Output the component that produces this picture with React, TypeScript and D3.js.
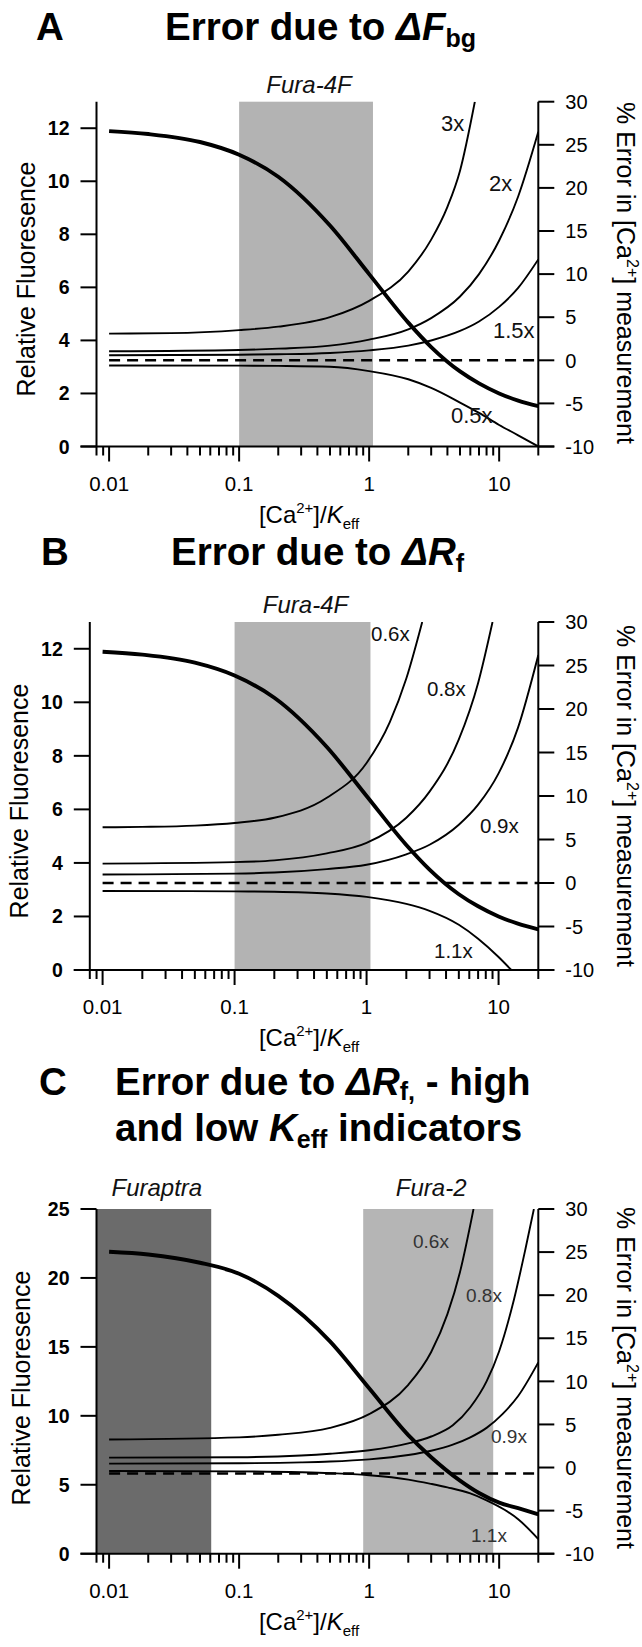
import React from "react";
import * as d3 from "d3";

const FONT = "'Liberation Sans', Arial, Helvetica, sans-serif";

// [Ca2+]/Keff axis
const xDomain = [0.008, 20];
const xMajor = [0.01, 0.1, 1, 10];
const xMajorLabels = ["0.01", "0.1", "1", "10"];
const rightTicks = [-10, -5, 0, 5, 10, 15, 20, 25, 30];
const leftTicksAB = [0, 2, 4, 6, 8, 10, 12];
const leftTicksC = [0, 5, 10, 15, 20, 25];

// indicator ranges (shaded)
const fura4F = [0.1, 1.07];
const furaptra = [0.008, 0.061];
const fura2 = [0.9, 9.0];

// relative fluorescence (thick curve, left axis)
const xFluor = [0.01, 0.02, 0.05, 0.1, 0.2, 0.5, 1, 2, 3, 5, 7, 10, 14, 20];
const fluorAB = [11.89, 11.78, 11.48, 11.0, 10.17, 8.33, 6.5, 4.67, 3.75, 2.83, 2.38, 2.0, 1.73, 1.52];
const fluorC = [21.9, 21.7, 21.1, 20.3, 18.7, 15.4, 12.0, 8.6, 7.0, 5.3, 4.4, 3.7, 3.3, 2.85];

// panel A: % error, background error factors
const xA3 = [0.01, 0.03, 0.1, 0.2, 0.5, 1, 2, 3, 4, 5, 6.5];
const errA3 = [3.1, 3.15, 3.5, 3.9, 5.0, 6.9, 10.3, 14.0, 17.8, 22.0, 30.0];
const xA = [0.01, 0.1, 0.2, 0.5, 1, 2, 3, 5, 7, 10, 14, 20];
const errA2 = [1.05, 1.2, 1.35, 1.7, 2.4, 3.6, 4.9, 7.4, 10.0, 13.9, 19.0, 26.5];
const errA15 = [0.58, 0.65, 0.7, 0.85, 1.15, 1.7, 2.3, 3.4, 4.5, 6.2, 8.4, 11.7];
const errA05 = [-0.6, -0.62, -0.65, -0.75, -1.25, -2.2, -3.2, -4.9, -6.1, -7.5, -8.7, -10.0];

// panel B: % error, Rf factors
const xB06 = [0.01, 0.02, 0.05, 0.1, 0.2, 0.5, 1, 1.5, 2, 2.64];
const errB06 = [6.4, 6.45, 6.6, 6.9, 7.5, 9.8, 13.8, 18.5, 23.5, 30.0];
const xB08 = [0.01, 0.1, 0.2, 0.5, 1, 2, 3, 5, 7, 9];
const errB08 = [2.23, 2.4, 2.6, 3.4, 4.6, 7.5, 10.5, 16.5, 23.0, 30.0];
const xB09 = [0.01, 0.1, 0.2, 0.5, 1, 2, 3, 5, 7, 10, 14, 20];
const errB09 = [0.97, 1.08, 1.2, 1.6, 2.1, 3.3, 4.4, 6.7, 9.0, 12.6, 17.8, 26.2];
const xB11 = [0.01, 0.1, 0.2, 0.5, 1, 2, 3, 5, 7, 10, 12.5];
const errB11 = [-0.92, -0.96, -1.0, -1.2, -1.6, -2.4, -3.2, -4.8, -6.4, -8.5, -10.0];

// panel C: % error, Rf factors
const xC06 = [0.01, 0.1, 0.2, 0.5, 1, 2, 3, 4, 5, 6.35];
const errC06 = [3.25, 3.5, 3.8, 4.6, 6.2, 9.6, 13.4, 17.8, 22.7, 30.0];
const xC08 = [0.01, 0.1, 0.3, 0.5, 1, 2, 3, 4.4, 6, 8, 10, 13, 16, 18.5];
const errC08 = [1.15, 1.2, 1.4, 1.6, 2.0, 2.8, 3.6, 4.9, 7.0, 10.0, 13.5, 19.5, 25.5, 30.0];
const xC09 = [0.01, 0.1, 0.3, 0.5, 1, 2, 3, 4.4, 6, 8, 10.6, 14, 20];
const errC09 = [0.45, 0.5, 0.6, 0.7, 0.95, 1.45, 1.95, 2.65, 3.5, 4.6, 6.2, 8.3, 12.2];
const xC11 = [0.01, 0.1, 0.3, 0.5, 1, 2, 3, 4, 6, 8, 11, 14, 20];
const errC11 = [-0.4, -0.45, -0.55, -0.65, -0.9, -1.4, -1.9, -2.3, -3.0, -3.8, -4.9, -6.0, -8.3];

// level of the dashed reference line (right axis, %)
const dashedLevel = [0, 0, -0.7];

const zip = (xs: number[], ys: number[]) => xs.map((v, i) => [v, ys[i]] as [number, number]);

const panels = [
  {
    key: "A",
    box: { left: 96.5, right: 538.3, top: 101.7, bottom: 446.5 },
    leftMax: 13,
    leftTicks: leftTicksAB,
    fluor: fluorAB,
    dashed: dashedLevel[0],
    bands: [{ range: fura4F, label: "Fura-4F", fill: "#b3b3b3", labelY: 93 }],
    curves: [zip(xA3, errA3), zip(xA, errA2), zip(xA, errA15), zip(xA, errA05)],
    labels: [
      { t: "3x", x: 441, y: 131 },
      { t: "2x", x: 489, y: 191 },
      { t: "1.5x", x: 493, y: 338 },
      { t: "0.5x", x: 451, y: 423 },
    ],
    labelSize: 22,
    labelColor: "#111",
    yLabelX: 35,
    yLabelY: 279,
    rLabelY: 273,
  },
  {
    key: "B",
    box: { left: 89.8, right: 538.3, top: 622, bottom: 970 },
    leftMax: 13,
    leftTicks: leftTicksAB,
    fluor: fluorAB,
    dashed: dashedLevel[1],
    bands: [{ range: fura4F, label: "Fura-4F", fill: "#b3b3b3", labelY: 613 }],
    curves: [zip(xB06, errB06), zip(xB08, errB08), zip(xB09, errB09), zip(xB11, errB11)],
    labels: [
      { t: "0.6x", x: 371, y: 641 },
      { t: "0.8x", x: 427, y: 696 },
      { t: "0.9x", x: 480, y: 833 },
      { t: "1.1x", x: 434, y: 958 },
    ],
    labelSize: 20.5,
    labelColor: "#111",
    yLabelX: 28,
    yLabelY: 801,
    rLabelY: 796,
  },
  {
    key: "C",
    box: { left: 96.5, right: 538.3, top: 1209, bottom: 1553.7 },
    leftMax: 25,
    leftTicks: leftTicksC,
    fluor: fluorC,
    dashed: dashedLevel[2],
    bands: [
      { range: furaptra, label: "Furaptra", fill: "#6b6b6b", labelY: 1196 },
      { range: fura2, label: "Fura-2", fill: "#b5b5b5", labelY: 1196 },
    ],
    curves: [zip(xC06, errC06), zip(xC08, errC08), zip(xC09, errC09), zip(xC11, errC11)],
    labels: [
      { t: "0.6x", x: 413, y: 1248 },
      { t: "0.8x", x: 466, y: 1302 },
      { t: "0.9x", x: 491, y: 1443 },
      { t: "1.1x", x: 471, y: 1542 },
    ],
    labelSize: 19,
    labelColor: "#333",
    yLabelX: 30,
    yLabelY: 1388,
    rLabelY: 1378,
  },
];

function Panel({ p }: { p: any }) {
  const { left, right, top, bottom } = p.box;
  const x = d3.scaleLog().domain(xDomain).range([left, right]);
  const yL = d3.scaleLinear().domain([0, p.leftMax]).range([bottom, top]);
  const yR = d3.scaleLinear().domain([-10, 30]).range([bottom, top]);

  const thinLine = d3
    .line<[number, number]>()
    .x((d) => x(d[0]))
    .y((d) => yR(d[1]))
    .curve(d3.curveMonotoneX);
  const thickLine = d3
    .line<[number, number]>()
    .x((d) => x(d[0]))
    .y((d) => yL(d[1]))
    .curve(d3.curveMonotoneX);

  const clipId = `clip-${p.key}`;
  const xTicks = x.ticks();
  const isMajor = (t: number) => Math.abs(Math.log10(t) - Math.round(Math.log10(t))) < 1e-6;

  return (
    <g>
      <defs>
        <clipPath id={clipId}>
          <rect x={left} y={top} width={right - left} height={bottom - top} />
        </clipPath>
      </defs>

      {p.bands.map((b: any) => (
        <g key={b.label}>
          <rect
            x={x(b.range[0])}
            y={top}
            width={x(b.range[1]) - x(b.range[0])}
            height={bottom - top}
            fill={b.fill}
          />
          <text
            x={(x(b.range[0]) + x(b.range[1])) / 2 + 3}
            y={b.labelY}
            textAnchor="middle"
            fontSize={24}
            fontStyle="italic"
            fill="#111"
          >
            {b.label}
          </text>
        </g>
      ))}

      <g clipPath={`url(#${clipId})`}>
        <line
          x1={x(0.01)}
          x2={right}
          y1={yR(p.dashed)}
          y2={yR(p.dashed)}
          stroke="#000"
          strokeWidth={2.6}
          strokeDasharray="11 7"
        />
        {p.curves.map((c: [number, number][], i: number) => (
          <path key={i} d={thinLine(c) || ""} fill="none" stroke="#000" strokeWidth={1.9} />
        ))}
        <path d={thickLine(zip(xFluor, p.fluor)) || ""} fill="none" stroke="#000" strokeWidth={3.9} />
      </g>

      {p.labels.map((l: any) => (
        <text key={l.t} x={l.x} y={l.y} fontSize={p.labelSize} fill={p.labelColor}>
          {l.t}
        </text>
      ))}

      {/* left axis */}
      <line x1={left} x2={left} y1={top} y2={bottom} stroke="#000" strokeWidth={2} />
      {p.leftTicks.map((t: number) => (
        <g key={t}>
          <line x1={left - 16} x2={left} y1={yL(t)} y2={yL(t)} stroke="#000" strokeWidth={2} />
          <text
            x={left - 27}
            y={yL(t)}
            dy="0.36em"
            textAnchor="end"
            fontSize={19.5}
            fontWeight={700}
            fill="#000"
          >
            {t}
          </text>
        </g>
      ))}

      {/* right axis */}
      <line x1={right} x2={right} y1={top} y2={bottom} stroke="#000" strokeWidth={2} />
      {rightTicks.map((t) => (
        <g key={t}>
          <line x1={right} x2={right + 16} y1={yR(t)} y2={yR(t)} stroke="#000" strokeWidth={2} />
          <text x={right + 27} y={yR(t)} dy="0.36em" fontSize={20} fill="#000">
            {t}
          </text>
        </g>
      ))}

      {/* x axis */}
      <line x1={left - 16} x2={right + 16} y1={bottom} y2={bottom} stroke="#000" strokeWidth={2} />
      {xTicks.map((t) => (
        <line
          key={t}
          x1={x(t)}
          x2={x(t)}
          y1={bottom}
          y2={bottom + (isMajor(t) ? 15 : 9)}
          stroke="#000"
          strokeWidth={2}
        />
      ))}
      {xMajor.map((t, i) => (
        <text key={t} x={x(t)} y={bottom + 44} textAnchor="middle" fontSize={20.5} fill="#000">
          {xMajorLabels[i]}
        </text>
      ))}

      <text x={309} y={bottom + 76} textAnchor="middle" fontSize={24} fill="#000">
        [Ca
        <tspan fontSize={15} dy={-10}>
          2+
        </tspan>
        <tspan dy={10}>]/</tspan>
        <tspan fontStyle="italic">K</tspan>
        <tspan fontSize={15} dy={6}>
          eff
        </tspan>
      </text>

      <text
        transform={`translate(${p.yLabelX},${p.yLabelY}) rotate(-90)`}
        textAnchor="middle"
        fontSize={25}
        fill="#000"
      >
        Relative Fluoresence
      </text>

      <text
        transform={`translate(617,${p.rLabelY}) rotate(90)`}
        textAnchor="middle"
        fontSize={25}
        fill="#000"
      >
        % Error in [Ca
        <tspan fontSize={16} dy={-10}>
          2+
        </tspan>
        <tspan dy={10}>] measurement</tspan>
      </text>
    </g>
  );
}

export default function App() {
  const titleSize = 38.5;
  const subSize = 25;
  return (
    <div>
      <style>{`body{margin:0}`}</style>
      <svg
        width={642}
        height={1647}
        viewBox="0 0 642 1647"
        style={{ position: "absolute", left: 0, top: 0, display: "block", background: "#fff" }}
        fontFamily={FONT}
      >
        <rect x={0} y={0} width={642} height={1647} fill="#fff" />

        {/* titles */}
        <g fontWeight={700} fontSize={titleSize} fill="#000">
          <text x={36} y={40}>A</text>
          <text x={165} y={40}>
            Error due to <tspan fontStyle="italic">ΔF</tspan>
            <tspan fontSize={subSize} dy={7}>bg</tspan>
          </text>

          <text x={41} y={565}>B</text>
          <text x={171} y={565}>
            Error due to <tspan fontStyle="italic">ΔR</tspan>
            <tspan fontSize={subSize} dy={7}>f</tspan>
          </text>

          <text x={39} y={1095}>C</text>
          <text x={115} y={1095}>
            Error due to <tspan fontStyle="italic">ΔR</tspan>
            <tspan fontSize={subSize} dy={5}>f,</tspan>
            <tspan dy={-5}> - high</tspan>
          </text>
          <text x={115} y={1141}>
            and low <tspan fontStyle="italic">K</tspan>
            <tspan fontSize={subSize} dy={7}>eff</tspan>
            <tspan dy={-7}> indicators</tspan>
          </text>
        </g>

        {panels.map((p) => (
          <Panel key={p.key} p={p} />
        ))}
      </svg>
    </div>
  );
}
